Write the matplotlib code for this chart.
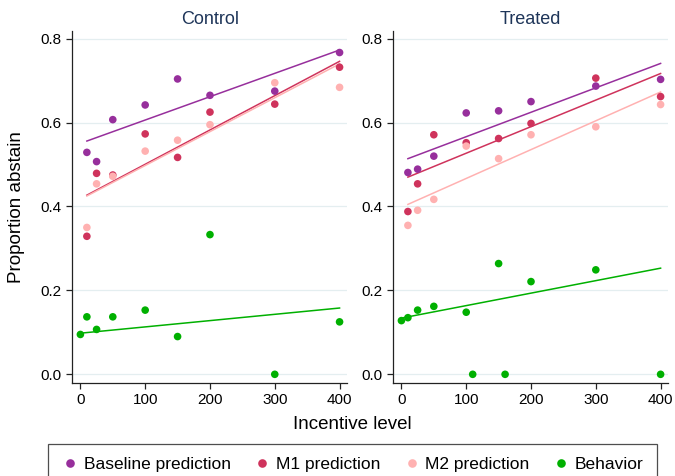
import numpy as np
import matplotlib
matplotlib.use("Agg")
import matplotlib.pyplot as plt
from matplotlib.lines import Line2D

plt.rcParams["font.family"] = ["Liberation Sans", "DejaVu Sans"]

# incentive levels
x_pred = [10, 25, 50, 100, 150, 200, 300, 400]
x_beh_control = [0, 10, 25, 50, 100, 150, 200, 300, 400]
x_beh_treated = [0, 10, 25, 50, 100, 110, 150, 160, 200, 300, 400]

# Control panel
ctrl_base = [0.529, 0.507, 0.607, 0.642, 0.704, 0.665, 0.675, 0.767]
ctrl_m1 = [0.329, 0.479, 0.475, 0.573, 0.517, 0.625, 0.644, 0.732]
ctrl_m2 = [0.350, 0.454, 0.472, 0.532, 0.558, 0.595, 0.695, 0.684]
ctrl_beh = [0.095, 0.137, 0.107, 0.137, 0.153, 0.090, 0.333, 0.0, 0.125]

# Treated panel
trt_base = [0.481, 0.489, 0.520, 0.623, 0.628, 0.650, 0.687, 0.703]
trt_m1 = [0.388, 0.454, 0.571, 0.552, 0.562, 0.598, 0.706, 0.662]
trt_m2 = [0.355, 0.391, 0.417, 0.544, 0.514, 0.571, 0.590, 0.643]
trt_beh = [0.128, 0.135, 0.153, 0.162, 0.148, 0.0, 0.264, 0.0, 0.221, 0.249, 0.0]

# fitted lines: (x0, y0, x1, y1)
ctrl_fits = {"base": (10, 0.556, 400, 0.773), "m1": (10, 0.427, 400, 0.746),
             "m2": (10, 0.425, 400, 0.740), "beh": (0, 0.098, 400, 0.158)}
trt_fits = {"base": (10, 0.514, 400, 0.741), "m1": (10, 0.470, 400, 0.717),
            "m2": (10, 0.405, 400, 0.673), "beh": (0, 0.134, 400, 0.253)}

colors = {"base": "#972f9c", "m1": "#cf335c", "m2": "#ffb1b1", "beh": "#00b000"}
labels = {"base": "Baseline prediction", "m1": "M1 prediction",
          "m2": "M2 prediction", "beh": "Behavior"}
order = ["base", "m1", "m2", "beh"]

fig = plt.figure(figsize=(6.75, 4.76), dpi=100)
ax1 = fig.add_axes([0.1071, 0.196, 0.407, 0.7395])
ax2 = fig.add_axes([0.5827, 0.196, 0.407, 0.7395])


def draw_panel(ax, title, series, fits):
    for key, (xs, ys) in series.items():
        f = fits[key]
        ax.plot([f[0], f[2]], [f[1], f[3]], color=colors[key], lw=1.1, zorder=2)
        ax.scatter(xs, ys, s=30, color=colors[key], edgecolors="none", zorder=3)
    ax.set_xlim(-12.5, 411.5)
    ax.set_ylim(-0.02, 0.819)
    ax.set_xticks([0, 100, 200, 300, 400])
    ax.set_yticks([0.0, 0.2, 0.4, 0.6, 0.8])
    ax.set_yticklabels(["0.0", "0.2", "0.4", "0.6", "0.8"])
    ax.grid(axis="y", color="#e4eef0", lw=0.9, zorder=0)
    ax.set_axisbelow(True)
    for s in ["top", "right"]:
        ax.spines[s].set_visible(False)
    for s in ["left", "bottom"]:
        ax.spines[s].set_linewidth(0.9)
        ax.spines[s].set_color("#222222")
    ax.tick_params(direction="out", length=4, width=0.9, labelsize=11, colors="#222222")
    ax.tick_params(labelcolor="black")
    ax.set_title(title, fontsize=13, color="#1e3559", pad=5)


draw_panel(ax1, "Control",
           {"base": (x_pred, ctrl_base), "m1": (x_pred, ctrl_m1),
            "m2": (x_pred, ctrl_m2), "beh": (x_beh_control, ctrl_beh)}, ctrl_fits)
draw_panel(ax2, "Treated",
           {"base": (x_pred, trt_base), "m1": (x_pred, trt_m1),
            "m2": (x_pred, trt_m2), "beh": (x_beh_treated, trt_beh)}, trt_fits)

fig.text(0.024, 0.566, "Proportion abstain", rotation=90, ha="center", va="center", fontsize=13.5)
fig.text(0.522, 0.109, "Incentive level", ha="center", va="center", fontsize=13.5)

handles = [Line2D([], [], ls="none", marker="o", markersize=6.2, color=colors[k],
                  markeredgecolor="none") for k in order]
leg = fig.legend(handles, [labels[k] for k in order],
                 ncol=4, loc="upper center", bbox_to_anchor=(0.522, 0.0672),
                 fontsize=12.5, frameon=True, fancybox=False, edgecolor="#222222",
                 handletextpad=0.3, columnspacing=1.3, handlelength=1.0,
                 borderpad=0.75, borderaxespad=0.0)
leg.get_frame().set_linewidth(0.9)

fig.savefig("out.png", dpi=100)
